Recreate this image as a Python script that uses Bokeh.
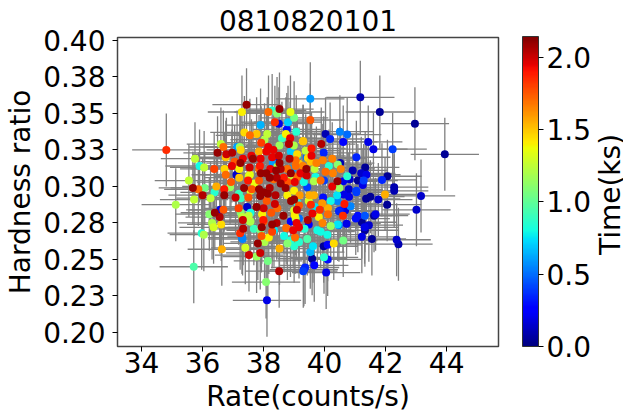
import numpy as np
from bokeh.embed import file_html
from bokeh.resources import INLINE
from bokeh.plotting import figure
from bokeh.models import (ColumnDataSource, LinearColorMapper, ColorBar, FixedTicker,
                          Label, Range1d, NumeralTickFormatter)

FONT = "DejaVu Sans"
FS = "28px"

rate = [
 34.81,37.44,37.29,38.16,38.28,38.44,38.52,38.88,39.0,38.8,
 38.5,38.37,37.9,38.76,39.07,37.37,37.55,37.77,38.12,38.73,
 38.6,38.87,39.29,37.92,38.03,38.83,38.52,38.99,36.6,36.68,
 37.22,37.13,37.25,38.15,38.09,38.32,36.49,36.78,36.97,36.76,
 35.75,37.85,37.6,37.32,37.65,37.24,36.96,37.05,37.9,37.88,
 37.54,36.72,36.76,37.11,37.2,37.55,36.38,35.9,36.05,35.55,
 35.68,35.86,36.07,36.45,36.39,36.0,36.93,37.2,37.49,37.85,
 37.91,38.09,38.22,38.41,38.56,38.52,38.5,38.85,39.1,39.05,
 38.2,38.43,38.89,39.02,38.78,37.36,37.61,37.85,38.2,38.0,
 38.56,38.72,39.0,36.71,36.71,37.51,37.7,38.3,35.12,35.72,
 36.26,37.08,36.4,36.56,36.58,36.68,36.22,36.31,36.36,36.61,
 36.04,35.97,36.63,35.71,37.52,37.4,37.77,37.89,38.14,38.51,
 38.08,38.11,37.81,37.31,37.23,37.33,37.3,37.32,38.52,37.93,
 37.94,37.55,38.0,38.0,37.77,38.1,37.89,38.14,38.39,38.37,
 37.5,37.46,37.18,37.57,38.28,38.28,38.43,38.65,38.25,38.74,
 39.08,38.97,39.0,39.03,38.9,39.0,39.09,38.88,39.32,43.16,
 43.01,41.98,42.05,41.76,41.5,41.36,41.04,41.67,41.62,41.32,
 41.09,41.02,41.22,41.45,41.31,41.32,41.22,41.55,42.36,42.42,
 40.61,40.3,40.1,39.97,40.72,40.47,40.2,40.43,39.93,39.45,
 39.87,40.09,39.43,39.62,39.53,39.59,39.98,40.1,39.66,39.36,
 39.3,40.05,40.11,40.11,40.6,40.65,40.85,39.84,39.6,39.55,
 39.92,39.81,39.5,39.65,40.2,40.43,40.8,40.67,40.47,39.53,
 41.17,41.81,42.96,43.94,39.53,40.03,40.5,40.74,40.18,40.61,
 41.43,41.6,42.23,39.89,39.3,39.57,39.57,39.97,39.94,40.25,
 39.73,41.04,40.51,40.43,40.14,40.53,41.33,40.92,41.2,41.37,
 40.27,40.74,41.09,41.28,41.25,42.06,41.88,42.28,42.28,40.42,
 40.03,40.82,40.61,40.79,40.48,40.25,41.04,39.65,39.87,39.32,
 39.41,39.4,39.45,39.38,37.57,38.34,37.68,37.9,37.25,37.51,
 37.29,38.17,38.03,38.89,38.43,38.67,39.16,38.78,37.19,39.1,
 36.9,37.25,37.57,38.12,38.78,38.45,37.95,37.99,39.0,39.16,
 39.18,39.05,39.16,39.02,39.34,39.48,39.68,40.62,40.41,39.95,
 40.52,39.48,39.76,39.16,39.41,39.05,39.29,39.21,39.54,39.43,
 39.7,39.67,39.98,38.89,39.1,38.28,37.85,38.45,38.78,39.16,
 38.94,38.43,39.1,38.89,38.66,38.33,
]
hardness = [
 .325,.356,.351,.351,.352,.35,.353,.351,.347,.344,
 .343,.344,.342,.339,.3375,.337,.335,.336,.336,.336,
 .333,.333,.331,.33,.332,.329,.328,.328,.329,.327,
 .327,.327,.325,.327,.324,.325,.323,.322,.323,.32,
 .319,.324,.321,.319,.319,.316,.314,.317,.319,.314,
 .313,.312,.308,.308,.312,.308,.312,.314,.313,.304,
 .299,.298,.299,.3,.296,.294,.303,.306,.304,.304,
 .309,.309,.312,.311,.312,.316,.321,.319,.322,.318,
 .306,.306,.309,.303,.303,.299,.298,.298,.299,.296,
 .302,.299,.297,.298,.294,.307,.302,.316,.2875,.291,
 .292,.2925,.282,.279,.284,.284,.281,.275,.272,.274,
 .267,.268,.257,.245,.253,.258,.252,.2545,.249,.242,
 .2345,.222,.261,.264,.268,.271,.279,.277,.2575,.266,
 .272,.276,.276,.285,.286,.29,.2935,.295,.294,.288,
 .2925,.286,.285,.282,.269,.274,.275,.28,.282,.2715,
 .275,.27,.259,.265,.29,.291,.284,.263,.243,.2935,
 .284,.2945,.2875,.291,.293,.2915,.296,.281,.28,.28,
 .28,.278,.2755,.2735,.272,.27,.2655,.264,.2635,.2605,
 .263,.261,.26,.259,.2745,.2735,.273,.274,.275,.277,
 .269,.267,.264,.259,.255,.2505,.2515,.25,.246,.2445,
 .242,.241,.285,.281,.28,.288,.2865,.284,.2815,.2875,
 .2885,.279,.294,.294,.29,.29,.293,.2835,.283,.36,
 .361,.351,.343,.322,.3455,.336,.3375,.3355,.3325,.3305,
 .3305,.3255,.3255,.329,.331,.326,.321,.323,.318,.319,
 .316,.32,.316,.315,.314,.312,.313,.311,.309,.308,
 .309,.307,.304,.304,.301,.307,.3045,.2995,.297,.3035,
 .31,.305,.3035,.298,.299,.3,.297,.3035,.304,.303,
 .3075,.312,.3195,.3245,.276,.27,.271,.27,.292,.28,
 .265,.265,.262,.276,.275,.266,.262,.261,.295,.289,
 .2995,.282,.297,.296,.294,.285,.281,.277,.2835,.287,
 .294,.278,.272,.2805,.271,.29,.286,.2945,.294,.2925,
 .2835,.274,.27,.278,.32,.314,.314,.309,.317,.2995,
 .3065,.312,.304,.324,.321,.32,.312,.3135,.312,.3155,
 .312,.316,.3065,.304,.306,.305,
]
time_ks = [
 1.85,2.1,1.4,1.7,.85,1.1,2.1,1.35,1.05,.7,
 .2,1.85,.65,.3,.85,1.45,1.7,1.5,1.25,1.4,
 .9,1.95,1.45,1.8,1.2,2.05,1.15,1.2,1.25,1.7,
 1.15,.6,1.45,1.95,1.95,1.95,2.1,2.0,2.05,1.5,
 1.25,1.55,1.95,1.95,2.1,2.1,1.95,1.75,1.95,1.9,
 2.0,1.45,1.7,.15,1.4,1.35,1.8,.8,1.25,1.25,
 2.1,1.7,1.05,1.55,.85,2.05,1.75,1.5,1.9,1.75,
 2.1,2.1,1.95,2.1,2.05,2.1,2.0,2.05,1.45,1.7,
 2.1,2.05,2.1,1.95,1.75,2.1,1.75,2.1,2.05,2.1,
 2.1,2.1,1.4,1.9,2.1,1.3,1.35,.6,1.2,1.25,
 1.25,2.0,2.1,2.05,.2,1.75,1.1,1.2,1.3,1.45,
 1.2,.85,1.55,.95,2.0,1.3,1.15,2.0,1.05,2.05,
 1.1,.2,2.1,.55,1.85,2.05,1.25,2.0,1.55,1.75,
 2.1,1.2,1.75,2.0,2.1,1.75,2.1,2.1,2.05,2.0,
 1.75,.15,1.8,.8,1.8,2.1,2.05,2.1,1.75,1.7,
 1.95,1.95,.85,1.7,2.1,2.1,2.0,.85,.3,.15,
 .15,1.55,.05,.15,.05,.05,.4,.2,.05,.45,
 .3,.3,.05,.15,.2,.05,.2,.05,.15,.1,
 1.05,1.45,.25,.05,.2,.5,1.15,.75,1.65,2.05,
 .8,.8,.95,.75,.65,.05,.85,.3,.25,.35,
 .4,.2,1.55,1.7,1.85,1.9,.55,1.85,1.95,1.85,
 1.6,1.4,1.55,1.55,.8,.55,.2,.2,.35,.6,
 .1,.05,.05,.05,1.75,.1,.55,.5,.35,.25,
 .2,.2,.4,2.05,1.5,1.9,1.95,.35,1.65,1.65,
 1.65,.35,.1,1.1,.85,1.65,.05,.1,.15,.2,
 1.65,.85,.05,.4,.2,.05,.35,.1,.1,2.1,
 1.7,.15,.2,.15,1.15,1.95,.4,1.2,1.7,.8,
 2.0,2.1,1.45,1.25,1.15,.75,.9,1.05,.9,1.25,
 .55,1.4,1.2,.25,.75,.8,.85,1.1,.9,.8,
 1.15,1.1,1.3,.85,1.4,1.7,1.4,1.9,1.3,1.75,
 1.6,1.25,1.95,1.4,.85,1.3,.75,.2,.75,.3,
 .3,.25,.8,.5,.5,1.7,1.65,1.95,1.5,.4,
 .8,1.25,.4,.7,.75,1.95,1.7,1.2,1.7,1.5,
 .6,.2,1.7,1.25,1.9,1.7,
]
rate_err = 1.12
hardness_err = 0.025
time_max = 2.143
x_ticks = [34, 36, 38, 40, 42, 44]
y_ticks = [0.20, 0.225, 0.25, 0.275, 0.30, 0.325, 0.35, 0.375, 0.40]
y_tick_labels = ["0.20", "0.23", "0.25", "0.28", "0.30", "0.33", "0.35", "0.38", "0.40"]
cbar_ticks = [0.0, 0.5, 1.0, 1.5, 2.0]

assert len(rate) == len(hardness) == len(time_ks)

# jet colour map
u = np.linspace(0, 1, 256)
r_c = np.interp(u, [0, .35, .66, .89, 1], [0, 0, 1, 1, .5])
g_c = np.interp(u, [0, .125, .375, .64, .91, 1], [0, 0, 1, 1, 0, 0])
b_c = np.interp(u, [0, .11, .34, .65, 1], [.5, 1, 1, 0, 0])
jet = ["#%02x%02x%02x" % (int(a*255), int(b*255), int(c*255)) for a, b, c in zip(r_c, g_c, b_c)]

order = np.argsort(np.array(time_ks), kind="stable")
R = np.array(rate)[order]
H = np.array(hardness)[order]
T = np.array(time_ks)[order]
src = ColumnDataSource(dict(rate=R, hr=H, t=T,
                            xl=R-rate_err, xh=R+rate_err,
                            yl=H-hardness_err, yh=H+hardness_err))

p = figure(width=623, height=415, output_backend="svg", toolbar_location=None,
           x_range=Range1d(33.21, 45.7), y_range=Range1d(0.1904, 0.402),
           title="0810820101",
           min_border_left=117, min_border_right=125, min_border_top=37, min_border_bottom=69)
p.grid.visible = False
p.background_fill_color = "white"
p.outline_line_color = "#444444"
p.outline_line_width = 1.5

p.title.align = "center"
p.title.text_font = FONT
p.title.text_font_size = FS
p.title.text_font_style = "normal"
p.title.text_color = "black"
p.title.text_line_height = 0.8
p.title.standoff = 13

for ax in (p.xaxis[0], p.yaxis[0]):
    ax.axis_line_color = None
    ax.major_tick_line_color = "black"
    ax.major_tick_out = 5
    ax.major_tick_in = 0
    ax.minor_tick_line_color = None
    ax.major_label_text_font = FONT
    ax.major_label_text_font_size = FS
    ax.major_label_text_color = "black"
    ax.axis_label_text_font = FONT
    ax.axis_label_text_font_size = FS
    ax.axis_label_text_font_style = "normal"
    ax.axis_label_text_color = "black"

p.xaxis[0].ticker = FixedTicker(ticks=x_ticks)
p.xaxis[0].axis_label = "Rate(counts/s)"
p.xaxis[0].axis_label_standoff = 4
p.xaxis[0].major_label_standoff = 0
p.yaxis[0].ticker = FixedTicker(ticks=y_ticks)
p.yaxis[0].major_label_overrides = dict(zip(y_ticks, y_tick_labels))
p.yaxis[0].axis_label = "Hardness ratio"
p.yaxis[0].axis_label_standoff = 3
p.yaxis[0].major_label_standoff = 7

p.segment("xl", "hr", "xh", "hr", source=src, line_color="#808080", line_width=1.3)
p.segment("rate", "yl", "rate", "yh", source=src, line_color="#808080", line_width=1.3)

mapper = LinearColorMapper(palette=jet, low=0, high=time_max)
p.scatter("rate", "hr", source=src, size=8, line_color=None,
          fill_color={"field": "t", "transform": mapper})

cb = ColorBar(color_mapper=mapper, width=16, height=310, location=(405, 0),
              padding=0, margin=0, ticker=FixedTicker(ticks=cbar_ticks),
              formatter=NumeralTickFormatter(format="0.0"),
              major_tick_in=0, major_tick_out=5, major_tick_line_color="black",
              minor_tick_line_color=None, bar_line_color="#333333", bar_line_width=1,
              major_label_text_font=FONT, major_label_text_font_size=FS,
              major_label_text_color="black", label_standoff=3,
              background_fill_color=None, border_line_color=None)
p.add_layout(cb, "center")

p.add_layout(Label(x=112, y=152, x_units="screen", y_units="screen", text="Time(ks)",
                   angle=90, angle_units="deg", text_align="center", text_baseline="alphabetic",
                   text_font=FONT, text_font_size=FS, text_color="black"), "right")

open("out.html", "w").write(file_html(p, INLINE))
